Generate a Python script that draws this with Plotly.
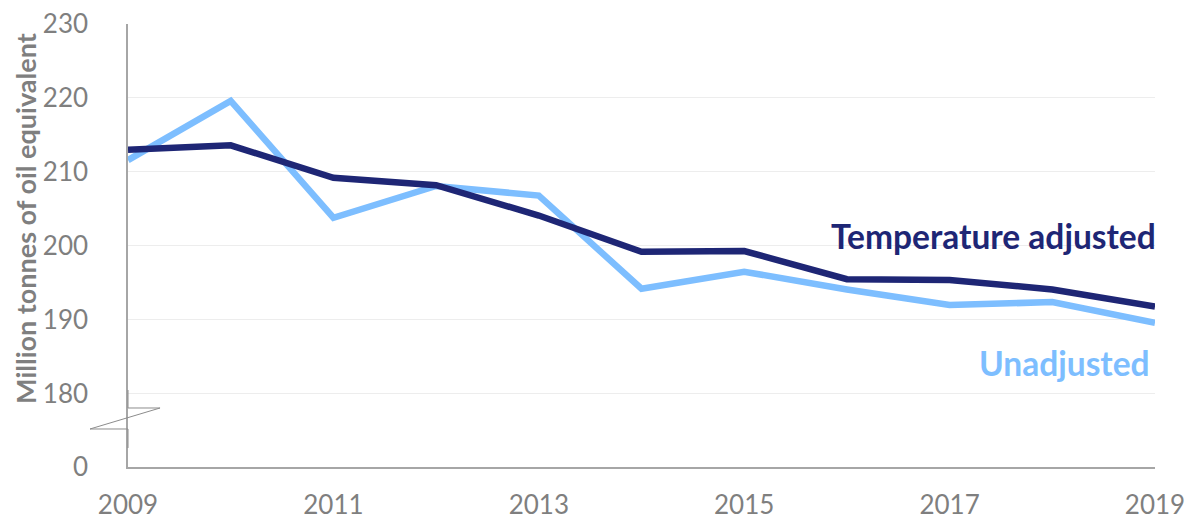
import plotly.graph_objects as go

years = list(range(2009, 2020))
temperature_adjusted = [213.0, 213.6, 209.2, 208.2, 204.1, 199.2, 199.3, 195.5, 195.4, 194.1, 191.8]
unadjusted = [211.6, 219.6, 203.8, 208.1, 206.8, 194.2, 196.5, 194.1, 192.0, 192.4, 189.6]

y_tickvals = [170.1, 180, 190, 200, 210, 220, 230]
y_ticktext = ["0", "180", "190", "200", "210", "220", "230"]
x_tickvals = [2009, 2011, 2013, 2015, 2017, 2019]

NAVY = "#1E2675"
LIGHT = "#7DBEFF"
GRAY = "#7F7F7F"
FONT = "Lato"

fig = go.Figure()
fig.add_trace(go.Scatter(x=years, y=unadjusted, mode="lines",
                         line=dict(color=LIGHT, width=6.5), name="Unadjusted"))
fig.add_trace(go.Scatter(x=years, y=temperature_adjusted, mode="lines",
                         line=dict(color=NAVY, width=6.5), name="Temperature adjusted"))

# page body has an 8px margin, so the figure is sized/offset accordingly
fig.update_layout(
    width=1185, height=515,
    margin=dict(l=120, r=38, t=16, b=56, autoexpand=False),
    paper_bgcolor="white", plot_bgcolor="white",
    showlegend=False,
    font=dict(family=FONT, color=GRAY),
    xaxis=dict(range=[2009, 2019], tickvals=x_tickvals, showgrid=False,
               showline=True, linecolor="#A6A6A6", linewidth=1.5,
               ticks="", tickfont=dict(size=26, color=GRAY, family=FONT),
               ticklabelstandoff=14, zeroline=False, automargin=False,
               ticklabeloverflow="allow"),
    yaxis=dict(range=[170.1, 230], tickvals=y_tickvals, ticktext=y_ticktext,
               showgrid=True, gridcolor="#EDEDED", gridwidth=1,
               showline=True, linecolor="#A6A6A6", linewidth=1.5,
               ticks="", tickfont=dict(size=26, color=GRAY, family=FONT),
               ticklabelstandoff=33, zeroline=False, automargin=False,
               ticklabeloverflow="allow"),
)

# axis break symbol
fig.add_shape(type="path", xref="paper", yref="paper",
              path="M 0,0.1738 L 0,0.1332 L 0.0312,0.1332 L -0.037,0.0858 L 0,0.0858 L 0,0.0429",
              line=dict(color="#8C8C8C", width=1))

fig.add_annotation(text="<b>Million tonnes of oil equivalent</b>", xref="paper", yref="paper",
                   x=-0.0993, y=0.56, xanchor="center", yanchor="middle",
                   textangle=-90, showarrow=False, borderpad=0,
                   font=dict(size=27, color=GRAY, family=FONT))
fig.add_annotation(text="<b>Temperature adjusted</b>", xref="paper", yref="paper",
                   x=1.003, y=0.5214, xanchor="right", yanchor="middle", showarrow=False,
                   font=dict(size=33.5, color=NAVY, family=FONT))
fig.add_annotation(text="<b>Unadjusted</b>", xref="paper", yref="paper",
                   x=0.997, y=0.2348, xanchor="right", yanchor="middle", showarrow=False,
                   font=dict(size=33.5, color=LIGHT, family=FONT))

fig.write_html("out.html")
